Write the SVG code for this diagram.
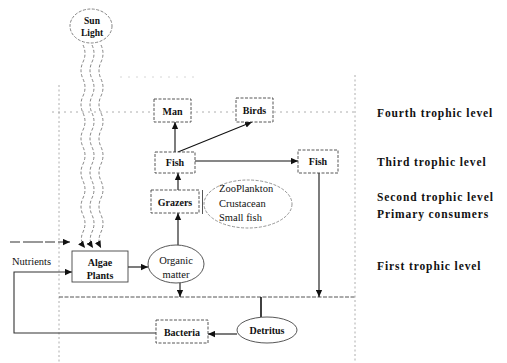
<svg xmlns="http://www.w3.org/2000/svg" width="507" height="363" viewBox="0 0 507 363">
<defs>
<marker id="ah" viewBox="0 0 10 10" refX="10" refY="5" markerWidth="7" markerHeight="7" orient="auto" markerUnits="userSpaceOnUse">
<path d="M0,0.5 L10,5 L0,9.5 z" fill="#111"/>
</marker>
<style>
.bx{fill:#fff;stroke:#444;stroke-width:0.9}
.el{fill:#fff;stroke:#444;stroke-width:0.9}
.dsh{stroke-dasharray:3,1.5}
.t{font-family:"Liberation Serif","Times New Roman",serif;font-size:10px;font-weight:bold;fill:#111;text-anchor:middle}
.tl{font-family:"Liberation Serif","Times New Roman",serif;font-size:10.5px;fill:#111}
.lv{font-family:"Liberation Serif","Times New Roman",serif;font-size:11.5px;font-weight:bold;letter-spacing:0.9px;fill:#111}
.fr{fill:none;stroke:#999;stroke-width:0.8;stroke-dasharray:2,2.5}
.c{fill:none;stroke:#111;stroke-width:1.1}
.wv{fill:none;stroke:#666;stroke-width:0.8;stroke-dasharray:3,2}
</style>
</defs>
<g id="frame">
<line class="fr" x1="59" y1="85" x2="59" y2="363"/>
<line class="fr" x1="355" y1="75" x2="355" y2="363"/>
<line class="fr" x1="120" y1="77" x2="200" y2="77" style="stroke:#ccc;stroke-dasharray:2,6"/>
<line class="fr" x1="52" y1="112" x2="355" y2="112" style="stroke-dasharray:2,4"/>
<line x1="59" y1="297" x2="356" y2="297" style="stroke:#555;stroke-width:1;stroke-dasharray:4,1.5"/>
</g>
<g id="connectors">
<path class="wv" d="M83,45 q4,8.5 0,17 t0,17 t0,17 t0,17 t0,17 t0,17 t0,17 t0,17 t0,17 t0,17 t0,17 t2,16" marker-end="url(#ah)"/>
<path class="wv" d="M92,45 q4,8.5 0,17 t0,17 t0,17 t0,17 t0,17 t0,17 t0,17 t0,17 t0,17 t0,17 t0,17 t1,16" marker-end="url(#ah)"/>
<path class="wv" d="M101,45 q4,8.5 0,17 t0,17 t0,17 t0,17 t0,17 t0,17 t0,17 t0,17 t0,17 t0,17 t0,17 t0,16" marker-end="url(#ah)"/>
<path class="c" d="M175,152 V122" marker-end="url(#ah)"/>
<path class="c" d="M178,152 L252,122" marker-end="url(#ah)"/>
<path class="c" d="M195,161 H298" marker-end="url(#ah)"/>
<path class="c" d="M178,190 V173" marker-end="url(#ah)"/>
<path class="c" d="M178,245 V213" marker-end="url(#ah)"/>
<path class="c" d="M128,267 H148" marker-end="url(#ah)"/>
<path class="c" d="M180,283 V297" marker-end="url(#ah)"/>
<path class="c" d="M319,173 V297" marker-end="url(#ah)"/>
<path class="c" d="M261,297 V317" style="stroke-width:1.6"/>
<path class="c" d="M237,334 H208" marker-end="url(#ah)"/>
<path class="c" d="M156,333 H14 V272 H72" style="stroke:#333" marker-end="url(#ah)"/>
<path class="c" d="M10,242 H70" style="stroke:#333;stroke-dasharray:10,3,20,2" marker-end="url(#ah)"/>
</g>
<g id="sunlight">
<ellipse class="el dsh" cx="91" cy="26" rx="21" ry="17" style="stroke:#777"/>
<text class="t" x="92" y="23.5" style="font-size:9.5px">Sun</text>
<text class="t" x="92" y="35.5" style="font-size:9.5px">Light</text>
</g>
<g id="man">
<rect class="bx dsh" x="154" y="99" width="37" height="23"/>
<text class="t" x="172.5" y="114.5">Man</text>
</g>
<g id="birds">
<rect class="bx dsh" x="236" y="98" width="37" height="24"/>
<text class="t" x="254.5" y="113.5">Birds</text>
</g>
<g id="fish-left">
<rect class="bx dsh" x="155" y="152" width="40" height="21"/>
<text class="t" x="175" y="166">Fish</text>
</g>
<g id="fish-right">
<rect class="bx dsh" x="298" y="150" width="40" height="23"/>
<text class="t" x="318" y="165">Fish</text>
</g>
<g id="grazers">
<rect class="bx dsh" x="151" y="190" width="48" height="23"/>
<text class="t" x="175" y="205.5">Grazers</text>
</g>
<g id="zooplankton">
<line x1="202.5" y1="190" x2="202.5" y2="214" stroke="#444" stroke-width="0.9"/>
<ellipse class="el dsh" cx="248" cy="204" rx="44" ry="24" style="stroke:#888"/>
<text class="tl" x="219" y="192">ZooPlankton</text>
<text class="tl" x="219" y="207">Crustacean</text>
<text class="tl" x="219" y="221">Small fish</text>
</g>
<g id="algae">
<rect class="bx" x="72" y="251" width="56" height="31"/>
<text class="t" x="100" y="265.5">Algae</text>
<text class="t" x="100" y="278.5">Plants</text>
</g>
<g id="organic">
<ellipse class="el" cx="176" cy="264" rx="28" ry="19"/>
<text class="t" x="176" y="264" style="font-weight:normal;font-size:10.5px">Organic</text>
<text class="t" x="176" y="278" style="font-weight:normal;font-size:10.5px">matter</text>
</g>
<g id="bacteria">
<rect class="bx dsh" x="156" y="320" width="52" height="23"/>
<text class="t" x="182" y="335.5">Bacteria</text>
</g>
<g id="detritus">
<ellipse class="el" cx="267" cy="330" rx="30" ry="13"/>
<text class="t" x="267" y="333.5">Detritus</text>
</g>
<g id="nutrients">
<text class="tl" x="12" y="264.5">Nutrients</text>
</g>
<g id="levels">
<text class="lv" x="377" y="117">Fourth trophic level</text>
<text class="lv" x="377" y="166">Third trophic level</text>
<text class="lv" x="377" y="201">Second trophic level</text>
<text class="lv" x="377" y="218">Primary consumers</text>
<text class="lv" x="377" y="270">First trophic level</text>
</g>
</svg>
